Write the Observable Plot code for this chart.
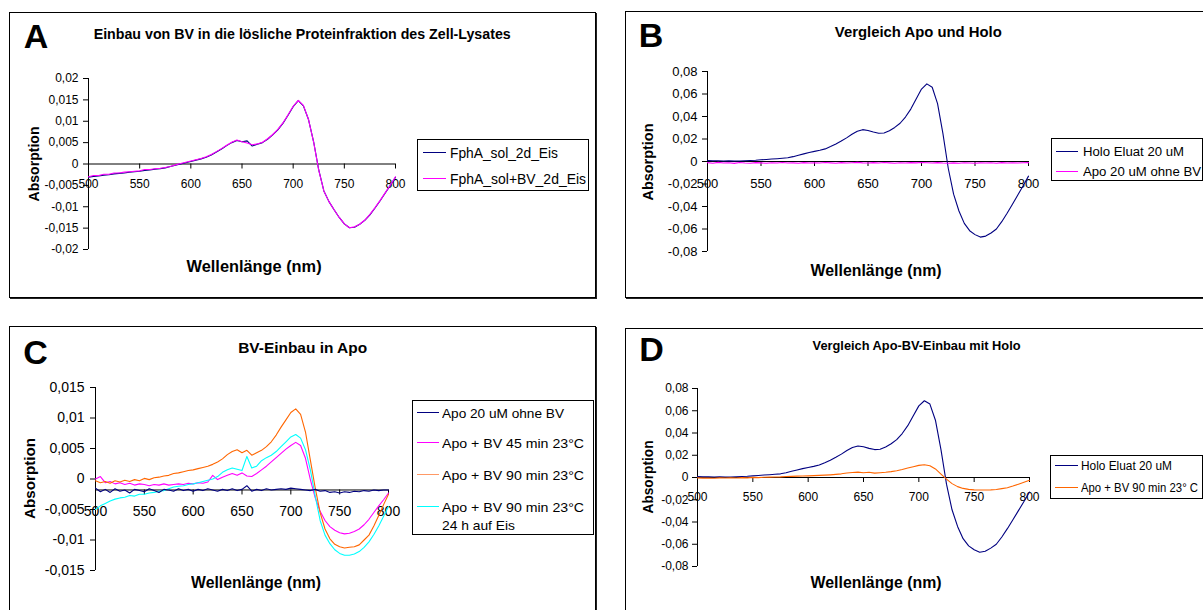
<!DOCTYPE html>
<html>
<head>
<meta charset="utf-8">
<script src="https://cdn.jsdelivr.net/npm/d3@7"></script>
<script src="https://cdn.jsdelivr.net/npm/@observablehq/plot@0.6"></script>
<style>
  body { margin: 0; background: #fff; }
  #root { position: relative; width: 1203px; height: 610px; overflow: hidden; background: #fff;
          font-family: "Liberation Sans", Arial, Helvetica, sans-serif; color: #000; }
  .frame { position: absolute; border: 1px solid #000; box-shadow: 1px 1px 0 #222; background: #fff; box-sizing: border-box; }
  .t { position: absolute; white-space: nowrap; line-height: 1; }
  .lg { position: absolute; border: 1px solid #000; background: #fff; box-sizing: border-box; }
  .ll { position: absolute; height: 0; }
</style>
</head>
<body>
<div id="root"></div>
<script>
// ---------------- data ----------------
const wavelength = [500,505,510,515,520,525,530,535,540,545,550,555,560,565,570,575,580,585,590,595,
  600,605,610,615,620,625,630,635,640,645,650,655,660,665,670,675,680,685,690,695,
  700,705,710,715,720,725,730,735,740,745,750,755,760,765,770,775,780,785,790,795,800];

const xTicks = [500, 550, 600, 650, 700, 750, 800];
const xLabels = ["500", "550", "600", "650", "700", "750", "800"];

// Panel A
const fphaSol = [-0.0031,-0.0029,-0.0028,-0.0026,-0.0025,-0.0023,-0.0022,-0.0021,-0.0019,-0.0018,
  -0.0017,-0.0015,-0.0014,-0.0012,-0.0011,-0.0009,-0.0006,-0.0003,0.0000,0.0003,
  0.0006,0.0009,0.0012,0.0016,0.0021,0.0028,0.0035,0.0043,0.0050,0.0055,
  0.0052,0.0054,0.0042,0.0046,0.0050,0.0058,0.0068,0.0080,0.0095,0.0114,
  0.0134,0.0148,0.0136,0.0104,0.0052,-0.0014,-0.0063,-0.0088,-0.0107,-0.0125,
  -0.0140,-0.0149,-0.0148,-0.0141,-0.0132,-0.0119,-0.0103,-0.0086,-0.0068,-0.0050,
  -0.0031];
const fphaSolBV = [-0.0030,-0.0027,-0.0027,-0.0024,-0.0024,-0.0021,-0.0021,-0.0019,-0.0018,-0.0017,
  -0.0016,-0.0013,-0.0013,-0.0011,-0.0010,-0.0008,-0.0006,-0.0002,0.0001,0.0004,
  0.0007,0.0010,0.0013,0.0017,0.0022,0.0029,0.0036,0.0044,0.0051,0.0056,
  0.0052,0.0049,0.0045,0.0047,0.0051,0.0059,0.0069,0.0081,0.0096,0.0115,
  0.0135,0.0149,0.0137,0.0104,0.0051,-0.0015,-0.0063,-0.0088,-0.0107,-0.0125,
  -0.0140,-0.0149,-0.0147,-0.0141,-0.0131,-0.0118,-0.0102,-0.0085,-0.0067,-0.0049,
  -0.0030];
const yTicksA = [0.02, 0.015, 0.01, 0.005, 0, -0.005, -0.01, -0.015, -0.02];
const yLabelsA = ["0,02", "0,015", "0,01", "0,005", "0", "-0,005", "-0,01", "-0,015", "-0,02"];

// Panel B / D
const holoEluat = [0.0008,0.0006,0.0007,0.0004,0.0006,0.0005,0.0004,0.0007,0.0009,0.0011,
  0.0015,0.0018,0.0022,0.0025,0.0029,0.0033,0.0043,0.0056,0.0068,0.0080,
  0.0090,0.0100,0.0112,0.0133,0.0156,0.0182,0.0210,0.0242,0.0269,0.0283,
  0.0276,0.0262,0.0251,0.0254,0.0274,0.0303,0.0340,0.0395,0.0466,0.0556,
  0.0644,0.0690,0.0660,0.0515,0.0250,-0.0060,-0.0290,-0.0440,-0.0550,-0.0615,
  -0.0650,-0.0672,-0.0663,-0.0635,-0.0600,-0.0535,-0.0460,-0.0380,-0.0298,-0.0215,
  -0.0130];
const apoB = [-0.0010,-0.0016,-0.0008,-0.0014,-0.0011,-0.0017,-0.0009,-0.0013,-0.0015,-0.0010,
  -0.0012,-0.0016,-0.0011,-0.0014,-0.0009,-0.0013,-0.0012,-0.0015,-0.0010,-0.0013,
  -0.0011,-0.0014,-0.0009,-0.0012,-0.0015,-0.0010,-0.0013,-0.0011,-0.0008,-0.0012,
  -0.0014,-0.0010,-0.0013,-0.0009,-0.0012,-0.0015,-0.0011,-0.0013,-0.0010,-0.0012,
  -0.0009,-0.0011,-0.0013,-0.0010,-0.0014,-0.0016,-0.0012,-0.0015,-0.0011,-0.0013,
  -0.0016,-0.0012,-0.0014,-0.0011,-0.0015,-0.0010,-0.0013,-0.0012,-0.0014,-0.0011,
  -0.0010];
const yTicksB = [0.08, 0.06, 0.04, 0.02, 0, -0.02, -0.04, -0.06, -0.08];
const yLabelsB = ["0,08", "0,06", "0,04", "0,02", "0", "-0,02", "-0,04", "-0,06", "-0,08"];

// Panel C
const apoC = [-0.0015,-0.0021,-0.0017,-0.0022,-0.0016,-0.0020,-0.0018,-0.0023,-0.0017,-0.0019,
  -0.0021,-0.0016,-0.0019,-0.0022,-0.0017,-0.0018,-0.0020,-0.0016,-0.0019,-0.0017,
  -0.0020,-0.0017,-0.0019,-0.0016,-0.0018,-0.0020,-0.0017,-0.0019,-0.0016,-0.0019,
  -0.0017,-0.0011,-0.0020,-0.0017,-0.0019,-0.0016,-0.0018,-0.0017,-0.0016,-0.0017,
  -0.0015,-0.0016,-0.0017,-0.0018,-0.0019,-0.0017,-0.0020,-0.0019,-0.0022,-0.0021,
  -0.0023,-0.0021,-0.0022,-0.0020,-0.0021,-0.0019,-0.0020,-0.0018,-0.0019,-0.0018,
  -0.0018];
const bv45 = [0.0000,0.0004,-0.0006,-0.0004,-0.0008,-0.0006,-0.0009,-0.0007,-0.0010,-0.0008,
  -0.0009,-0.0011,-0.0009,-0.0010,-0.0008,-0.0010,-0.0009,-0.0008,-0.0009,-0.0007,
  -0.0008,-0.0006,-0.0007,-0.0005,0.0006,-0.0001,0.0003,0.0006,0.0009,0.0006,
  0.0010,0.0005,0.0004,0.0009,0.0015,0.0021,0.0028,0.0035,0.0042,0.0049,
  0.0055,0.0060,0.0055,0.0034,-0.0001,-0.0031,-0.0053,-0.0068,-0.0078,-0.0084,
  -0.0088,-0.0090,-0.0089,-0.0086,-0.0082,-0.0075,-0.0066,-0.0055,-0.0044,-0.0034,
  -0.0023];
const bv90 = [-0.0003,-0.0006,-0.0004,-0.0007,-0.0003,-0.0005,-0.0002,-0.0004,-0.0001,-0.0003,
  0.0001,-0.0001,0.0002,0.0003,0.0005,0.0006,0.0009,0.0010,0.0012,0.0014,
  0.0015,0.0017,0.0019,0.0021,0.0024,0.0028,0.0033,0.0040,0.0045,0.0048,
  0.0043,0.0047,0.0039,0.0043,0.0047,0.0053,0.0061,0.0072,0.0085,0.0097,
  0.0109,0.0115,0.0106,0.0077,0.0031,-0.0015,-0.0055,-0.0082,-0.0098,-0.0107,
  -0.0111,-0.0113,-0.0112,-0.0111,-0.0108,-0.0100,-0.0092,-0.0077,-0.0060,-0.0042,
  -0.0025];
const bv90Eis = [-0.0050,-0.0044,-0.0040,-0.0036,-0.0033,-0.0031,-0.0030,-0.0027,-0.0028,-0.0025,
  -0.0025,-0.0023,-0.0022,-0.0020,-0.0019,-0.0016,-0.0013,-0.0012,-0.0011,-0.0009,
  -0.0008,-0.0006,-0.0004,-0.0002,0.0000,0.0004,0.0011,0.0015,0.0018,0.0016,
  0.0014,0.0037,0.0018,0.0021,0.0030,0.0035,0.0039,0.0045,0.0053,0.0061,
  0.0069,0.0073,0.0067,0.0048,0.0015,-0.0028,-0.0068,-0.0092,-0.0106,-0.0116,
  -0.0122,-0.0125,-0.0125,-0.0123,-0.0119,-0.0112,-0.0103,-0.0091,-0.0077,-0.0061,
  -0.0045];
const yTicksC = [0.015, 0.01, 0.005, 0, -0.005, -0.01, -0.015];
const yLabelsC = ["0,015", "0,01", "0,005", "0", "-0,005", "-0,01", "-0,015"];
const crossC = -0.0018;

// ---------------- helpers ----------------
const FONT = '"Liberation Sans", Arial, Helvetica, sans-serif';
const root = document.getElementById("root");

function frame(l, t, w, h) {
  const d = document.createElement("div");
  d.className = "frame";
  Object.assign(d.style, {left: l + "px", top: t + "px", width: w + "px", height: h + "px"});
  root.appendChild(d);
}

function text(str, x, y, o = {}) {
  const size = o.size || 12;
  const el = document.createElement("div");
  el.className = "t";
  el.textContent = str;
  el.style.fontSize = size + "px";
  el.style.fontWeight = o.bold ? "bold" : "normal";
  root.appendChild(el);
  const w = el.getBoundingClientRect().width;
  const k = o.width ? o.width / w : 1;
  el.style.top = (y - size / 2) + "px";
  if (o.rotate) {
    el.style.left = (x - w / 2) + "px";
    el.style.transformOrigin = "50% 50%";
    el.style.transform = `rotate(-90deg) scaleX(${k})`;
  } else if (o.anchor === "start") {
    el.style.left = x + "px";
    el.style.transformOrigin = "0 50%";
    el.style.transform = `scaleX(${k})`;
  } else {
    el.style.left = (x - w / 2) + "px";
    el.style.transformOrigin = "50% 50%";
    el.style.transform = `scaleX(${k})`;
  }
}

function legend(box, lineX0, lineX1, textX, size, items) {
  const d = document.createElement("div");
  d.className = "lg";
  Object.assign(d.style, {left: box[0] + "px", top: box[1] + "px", width: (box[2] - box[0]) + "px", height: (box[3] - box[1]) + "px"});
  root.appendChild(d);
  for (const it of items) {
    if (it.color) {
      const l = document.createElement("div");
      l.className = "ll";
      Object.assign(l.style, {left: lineX0 + "px", top: (it.y - 0.75) + "px", width: (lineX1 - lineX0) + "px", borderTop: `1.5px solid ${it.color}`});
      root.appendChild(l);
    }
    text(it.label, textX, it.y, {size, anchor: "start", width: it.width});
  }
}

function chart(cfg) {
  const mL = 60, mR = 10, mT = 10, mB = 40;
  const W = cfg.x1 - cfg.x0 + mL + mR, H = cfg.y1 - cfg.y0 + mT + mB;
  const fmt = new Map(cfg.yTicks.map((v, i) => [v, cfg.yLabels[i]]));
  const svg = Plot.plot({
    width: W, height: H,
    marginLeft: mL, marginRight: mR, marginTop: mT, marginBottom: mB,
    x: {domain: [500, 800], axis: null},
    y: {domain: [cfg.ymin, cfg.ymax]},
    style: {fontFamily: FONT, background: "none", overflow: "visible", color: "#000"},
    marks: [
      ...cfg.series.map(s => Plot.line(wavelength, {x: d => d, y: (d, i) => s.values[i], stroke: s.color, strokeWidth: 1.1})),
      Plot.ruleX([500], {stroke: "#000", strokeWidth: 1}),
      Plot.axisY(cfg.yTicks, {anchor: "left", tickSize: 5, tickPadding: cfg.pad, fontSize: cfg.font,
        tickFormat: d => fmt.get(d), label: null, stroke: "#000", fill: "#000"}),
      Plot.ruleY([cfg.cross], {x1: 500, x2: 800, stroke: "#000", strokeWidth: 1}),
      Plot.ruleX(xTicks, {x: d => d, y1: cfg.cross, y2: cfg.cross, insetBottom: -5, stroke: "#000"}),
      Plot.text(xTicks, {x: d => d, y: cfg.cross, text: (d, i) => xLabels[i], dy: cfg.dy, fontSize: cfg.font, fill: "#000"}),
      ...(cfg.over || []).map(s => Plot.line(wavelength, {x: d => d, y: (d, i) => s.values[i], stroke: s.color, strokeWidth: 1.1}))
    ]
  });
  svg.style.position = "absolute";
  svg.style.left = (cfg.x0 - mL) + "px";
  svg.style.top = (cfg.y0 - mT) + "px";
  root.appendChild(svg);
}

const NAVY = "#000080", MAGENTA = "#ff00ff", ORANGE = "#ff6600", CYAN = "#00ffff";

// ---------------- frames ----------------
frame(9, 12, 587, 286);
frame(625, 11, 620, 287);
frame(9, 326, 587, 300);
frame(625, 328, 620, 300);

// ---------------- panel A ----------------
chart({x0: 88, x1: 395, y0: 78, y1: 249, ymin: -0.02, ymax: 0.02, yTicks: yTicksA, yLabels: yLabelsA,
  cross: 0, dy: 20, font: 12, pad: 5,
  series: [], over: [{values: fphaSol, color: NAVY}, {values: fphaSolBV, color: MAGENTA}]});
text("A", 36, 36, {size: 34, bold: true});
text("Einbau von BV in die lösliche Proteinfraktion des Zell-Lysates", 302, 33, {size: 15, bold: true, width: 417});
text("Wellenlänge (nm)", 254, 267, {size: 16, bold: true, width: 135});
text("Absorption", 34, 164, {size: 14, bold: true, rotate: true, width: 75});
legend([417, 139, 589, 191], 423, 446, 450, 14, [
  {label: "FphA_sol_2d_Eis", y: 153, color: NAVY, width: 108},
  {label: "FphA_sol+BV_2d_Eis", y: 179, color: MAGENTA, width: 136}
]);

// ---------------- panel B ----------------
chart({x0: 707, x1: 1028, y0: 71, y1: 251, ymin: -0.08, ymax: 0.08, yTicks: yTicksB, yLabels: yLabelsB,
  cross: 0, dy: 22, font: 13, pad: 5,
  series: [], over: [{values: holoEluat, color: NAVY}, {values: apoB, color: MAGENTA}]});
text("B", 651, 35, {size: 34, bold: true});
text("Vergleich Apo und Holo", 918, 31, {size: 15, bold: true, width: 167});
text("Wellenlänge (nm)", 876, 271, {size: 16, bold: true, width: 131});
text("Absorption", 648, 162, {size: 14, bold: true, rotate: true, width: 77});
legend([1051, 138, 1203, 181], 1056, 1078, 1083, 12, [
  {label: "Holo Eluat 20 uM", y: 152, color: NAVY, width: 101},
  {label: "Apo 20 uM ohne BV", y: 172, color: MAGENTA, width: 118}
]);

// ---------------- panel C ----------------
chart({x0: 95, x1: 388, y0: 387, y1: 570, ymin: -0.015, ymax: 0.015, yTicks: yTicksC, yLabels: yLabelsC,
  cross: crossC, dy: 22, font: 14, pad: 6,
  series: [], over: [{values: bv45, color: MAGENTA}, {values: bv90, color: ORANGE}, {values: bv90Eis, color: CYAN}, {values: apoC, color: NAVY}]});
text("C", 35.5, 352, {size: 34, bold: true});
text("BV-Einbau in Apo", 303, 347, {size: 15, bold: true, width: 129});
text("Wellenlänge (nm)", 256, 583, {size: 16, bold: true, width: 130});
text("Absorption", 29, 478, {size: 15, bold: true, rotate: true, width: 81});
legend([412, 400, 594, 535], 417, 439, 442, 13, [
  {label: "Apo 20 uM ohne BV", y: 413, color: NAVY, width: 122},
  {label: "Apo + BV 45 min 23°C", y: 443, color: MAGENTA, width: 142},
  {label: "Apo + BV 90 min 23°C", y: 475, color: "#ff9966", width: 142},
  {label: "Apo + BV 90 min 23°C", y: 507, color: CYAN, width: 142},
  {label: "24 h auf Eis", y: 525, color: null, width: 73}
]);

// ---------------- panel D ----------------
chart({x0: 697, x1: 1029, y0: 388, y1: 566, ymin: -0.08, ymax: 0.08, yTicks: yTicksB, yLabels: yLabelsB,
  cross: 0, dy: 20, font: 12, pad: 4,
  series: [], over: [{values: holoEluat, color: NAVY}, {values: bv90, color: ORANGE}]});
text("D", 651.5, 349, {size: 34, bold: true});
text("Vergleich Apo-BV-Einbau mit Holo", 917, 345, {size: 13, bold: true, width: 208});
text("Wellenlänge (nm)", 876, 583, {size: 16, bold: true, width: 131});
text("Absorption", 648, 477, {size: 14, bold: true, rotate: true, width: 73});
legend([1050, 455, 1203, 499], 1055, 1078, 1081, 12, [
  {label: "Holo Eluat 20 uM", y: 466, color: NAVY, width: 91},
  {label: "Apo + BV 90 min 23° C", y: 488, color: ORANGE, width: 117}
]);
</script>
</body>
</html>
